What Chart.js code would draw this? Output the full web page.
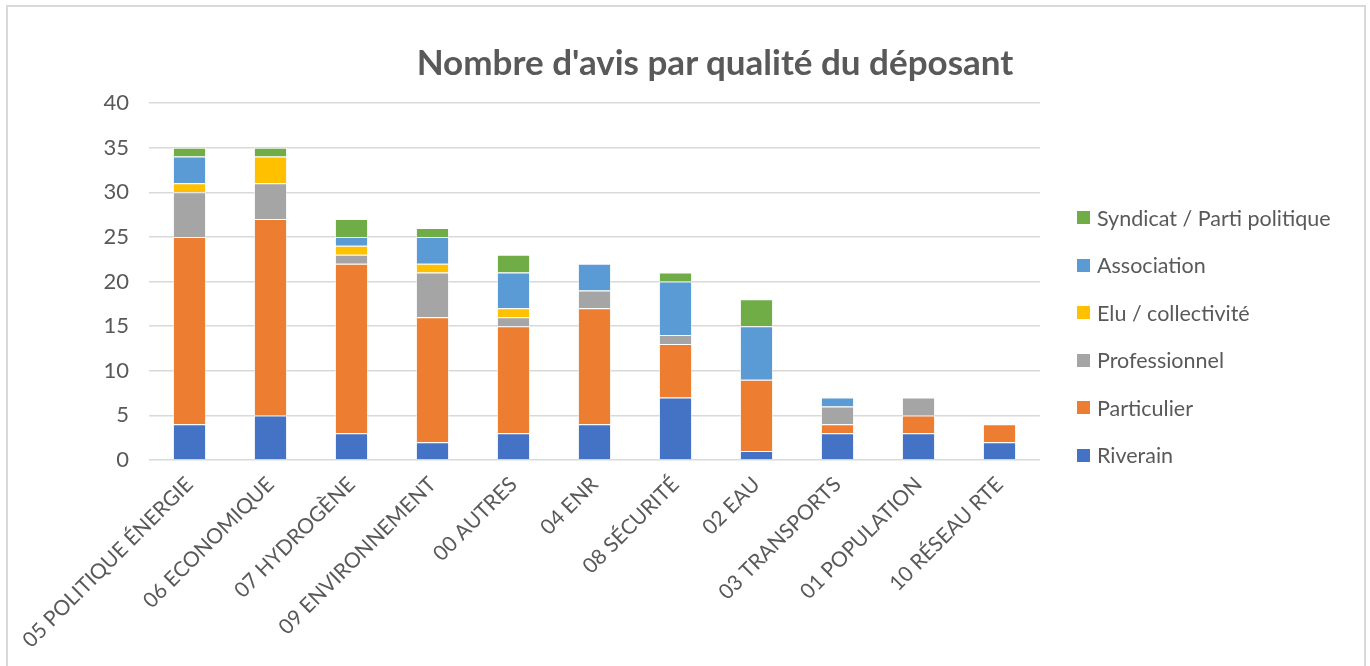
<!DOCTYPE html>
<html>
<head>
<meta charset="utf-8">
<title>Nombre d'avis par qualité du déposant</title>
<script src="https://cdn.jsdelivr.net/npm/chart.js"></script>
<style>
  body { margin: 0; background: #fff; font-family: Lato, "Open Sans", sans-serif; }
  #frame { position: absolute; left: 6px; top: 5px; width: 1360px; height: 680px; border: 2px solid #d9d9d9; box-sizing: border-box; }
  #wrap { position: absolute; left: 0; top: 0; width: 1370px; height: 666px; }
  #title { position: absolute; left: 0; width: 1430px; top: 40px; text-align: center; font-size: 35px; font-weight: bold; color: #595959; }
  #legend { position: absolute; left: 1077px; top: 194px; }
  .item { height: 47.5px; font-size: 21.5px; color: #595959; display: flex; align-items: center; }
  .box { width: 13px; height: 13px; margin-right: 7px; }
</style>
</head>
<body>
<div id="frame"></div>
<div id="wrap"><canvas id="chart" width="1370" height="666"></canvas></div>
<div id="title">Nombre d'avis par qualité du déposant</div>
<div id="legend"></div>

<script>
// categories (x axis)
var categories = ['05 POLITIQUE ÉNERGIE', '06 ECONOMIQUE', '07 HYDROGÈNE', '09 ENVIRONNEMENT', '00 AUTRES',
  '04 ENR', '08 SÉCURITÉ', '02 EAU', '03 TRANSPORTS', '01 POPULATION', '10 RÉSEAU RTE'];

// one array per depositor type
var riverain      = [4, 5, 3, 2, 3, 4, 7, 1, 3, 3, 2];
var particulier   = [21, 22, 19, 14, 12, 13, 6, 8, 1, 2, 2];
var professionnel = [5, 4, 1, 5, 1, 2, 1, 0, 2, 2, 0];
var elu           = [1, 3, 1, 1, 1, 0, 0, 0, 0, 0, 0];
var association   = [3, 0, 1, 3, 4, 3, 6, 6, 1, 0, 0];
var syndicat      = [1, 1, 2, 1, 2, 0, 1, 3, 0, 0, 0];

var yTicks = [0, 5, 10, 15, 20, 25, 30, 35, 40];

var series = [
  { label: 'Riverain', data: riverain, color: '#4472c4' },
  { label: 'Particulier', data: particulier, color: '#ed7d31' },
  { label: 'Professionnel', data: professionnel, color: '#a5a5a5' },
  { label: 'Elu / collectivité', data: elu, color: '#ffc000' },
  { label: 'Association', data: association, color: '#5b9bd5' },
  { label: 'Syndicat / Parti politique', data: syndicat, color: '#70ad47' }
];

var datasets = series.map(function(s) {
  return {
    label: s.label,
    data: s.data,
    backgroundColor: s.color,
    borderColor: 'rgba(255,255,255,0.6)',
    borderWidth: 1,
    barPercentage: 0.41,
    categoryPercentage: 1
  };
});

// html legend, top to bottom in reverse order like the original
var legend = document.getElementById('legend');
series.slice().reverse().forEach(function(s) {
  var d = document.createElement('div');
  d.className = 'item';
  d.innerHTML = '<span class="box" style="background:' + s.color + '"></span>' + s.label;
  legend.appendChild(d);
});

new Chart(document.getElementById('chart'), {
  type: 'bar',
  data: { labels: categories, datasets: datasets },
  options: {
    responsive: false,
    animation: false,
    layout: { padding: { top: 103, right: 330, left: 0, bottom: 0 } },
    plugins: { legend: { display: false }, title: { display: false }, tooltip: { enabled: false } },
    scales: {
      x: {
        stacked: true,
        grid: { display: false },
        border: { display: false },
        ticks: {
          minRotation: 45, maxRotation: 45, padding: 4,
          color: '#595959', font: { family: 'Lato', size: 21 }
        },
        afterFit: function(s) { s.height = 206; }
      },
      y: {
        stacked: true,
        min: 0, max: 40,
        afterBuildTicks: function(s) { s.ticks = yTicks.map(function(v) { return { value: v }; }); },
        grid: { color: '#d9d9d9', lineWidth: 1.5, drawTicks: false },
        border: { display: false },
        ticks: { padding: 20, color: '#595959', font: { family: 'Lato', size: 22 } },
        afterFit: function(s) { s.width = 149; }
      }
    }
  }
});
</script>
</body>
</html>
